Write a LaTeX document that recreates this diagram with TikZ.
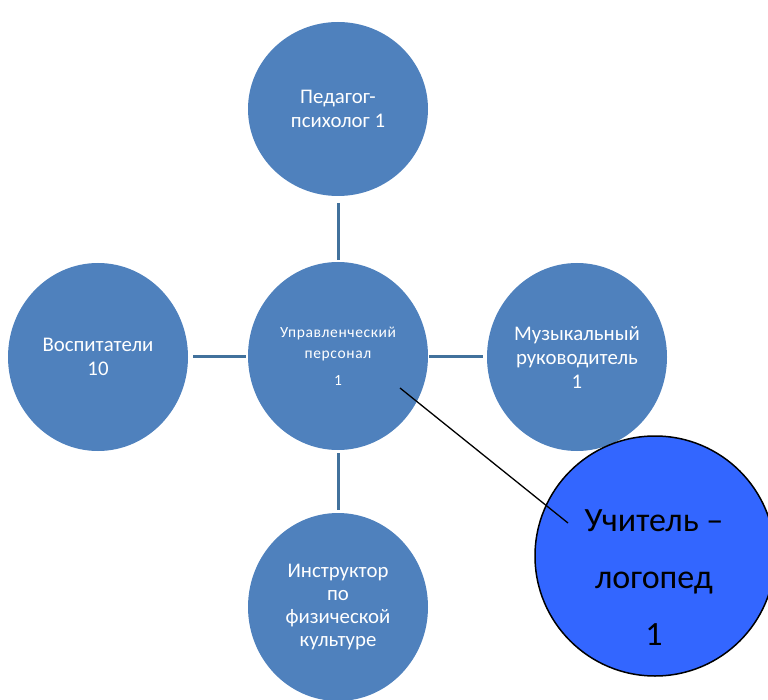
\documentclass[tikz,border=0pt]{standalone}
\usepackage{fontspec}
\setmainfont{Carlito}
\newfontfamily\spacedfont[LetterSpace=4]{Carlito}
\usetikzlibrary{shapes.geometric}
\definecolor{staffblue}{HTML}{4F81BD}
\definecolor{linkblue}{HTML}{41719C}
\definecolor{logblue}{HTML}{3366FF}
\tikzset{
  staff/.style={ellipse, fill=staffblue, inner sep=0pt, minimum width=180pt, minimum height=188pt, text=white, align=center, font=\fontsize{20.8}{24}\selectfont},
  link/.style={draw=linkblue, line width=3pt},
  logcircle/.style={ellipse, draw=black, line width=1.5pt, fill=logblue, minimum width=240pt, minimum height=240pt, inner sep=0pt},
  logtext/.style={align=center, text=black, font=\fontsize{34}{57}\selectfont, inner sep=0pt}
}
\begin{document}
\begin{tikzpicture}[x=1pt,y=-1pt]
\useasboundingbox (0,0) rectangle (768,700);
\clip (0,0) rectangle (768,700);
\node[staff, minimum height=174pt] (ped) at (338,109) {Педагог-\\психолог 1};
\node[staff, font=\spacedfont\fontsize{15.5}{21}\selectfont] (mgmt) at (338,356) {Управленческий\\персонал\\[6pt]1};
\node[staff] (vos) at (98,357) {Воспитатели\\10};
\node[staff] (mus) at (577,357) {Музыкальный\\руководитель\\1};
\node[staff, font=\fontsize{20.8}{23}\selectfont] (fiz) at (338,607) {Инструктор\\по\\физической\\культуре};
\draw[link] (338,203) -- (338,260);
\draw[link] (338,453) -- (338,510);
\draw[link] (193,357) -- (246,357);
\draw[link] (429,357) -- (483,357);
\node[logcircle] (log) at (655,556) {};
\node[logtext] (logt) at (654,578) {Учитель –\\логопед\\1};
\coordinate (lineA) at (400,388);
\coordinate (lineB) at (568,523);
\draw[black, line width=1.3pt] (lineA) -- (lineB);
\end{tikzpicture}
\end{document}
